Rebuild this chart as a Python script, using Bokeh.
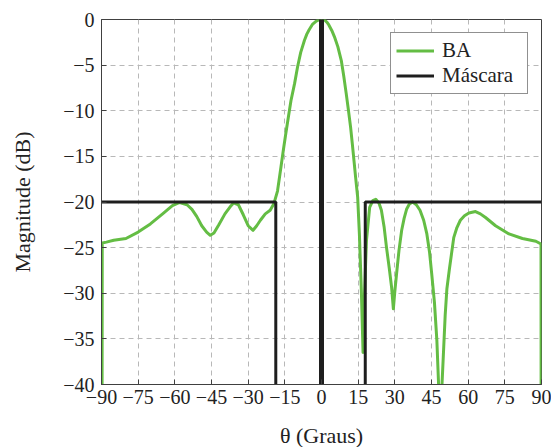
from bokeh.plotting import figure
from bokeh.models import Range1d, FixedTicker, Legend, LegendItem
from bokeh.embed import file_html
from bokeh.resources import INLINE

# BA beam pattern
theta_ba = [-90.0, -89.7, -88, -85, -80, -75, -70, -65, -61, -58, -55, -53, -51, -49, -47,
            -45.5, -44, -42, -39.5, -37, -36, -34, -32, -30, -28, -26.5, -25, -23, -21,
            -19.5, -18.0, -17.3, -16.6, -15.6, -14.6, -13.5, -12.5, -11.0, -9.8, -8.5,
            -7.0, -6.0, -5.0, -3.6, -2.5, -1.5, 0.0, 1.5, 2.2, 3.0, 4.2, 5.3, 6.7,
            8.1, 9.1, 10.1, 11.0, 11.9, 12.6, 13.3, 14.0, 14.8, 15.5, 16.3, 17.0, 17.6,
            18.4, 19.7, 21.0, 22.2,
            23.5, 24.5, 25.6, 26.6, 27.7, 28.7, 29.4, 30.0, 30.7, 31.7, 32.8, 33.8, 34.8,
            36.0, 37.3, 38.8, 40.3, 41.8, 43.1, 44.2, 45.1, 46.2, 47.2, 47.9, 48.6, 49.3,
            50.6, 51.3, 52.3, 54.1, 55.4, 56.8, 58.5, 60.3, 63.0, 65.0, 67.1, 71.2, 76.7,
            82.2, 87.7, 89.8, 90.0]
db_ba = [-100, -24.5, -24.4, -24.2, -24.0, -23.3, -22.4, -21.3, -20.4, -20.05, -20.3,
         -20.8, -21.6, -22.6, -23.3, -23.65, -23.4, -22.5, -21.3, -20.4, -20.1, -20.3,
         -21.4, -22.6, -23.1, -22.6, -22.0, -21.3, -20.9, -20.2, -18.8, -17.5, -16.2,
         -14.3, -12.5, -10.6, -8.9, -7.0, -5.2, -3.6, -2.3, -1.6, -1.1, -0.5, -0.25,
         -0.08, 0.0, -0.1, -0.3, -0.6, -1.2, -1.9, -3.0, -4.5, -6.2, -8.1, -9.9, -11.8,
         -13.6, -15.5, -17.4, -19.5, -23.5, -29.7, -36.5, -30.0, -24.2, -20.6, -19.85,
         -19.7, -20.1, -20.9,
         -22.7, -25.0, -27.2, -29.4, -31.7, -29.8, -27.9, -25.3, -23.1, -21.8, -20.8,
         -20.2, -20.0, -20.3, -20.9, -22.0, -23.5, -25.5, -27.9, -31.0, -35.2, -40.0,
         -60.0, -40.0, -32.4, -29.5, -27.4, -23.9, -22.8, -22.0, -21.5, -21.2, -21.05,
         -21.3, -21.7, -22.6, -23.5, -24.0, -24.3, -24.6, -100]

# Mask
mask_theta = [-90, -18.7, -18.7, -0.4, -0.4, 0.4, 0.4, 17.9, 17.9, 90]
mask_db = [-20, -20, -100, -100, 0, 0, -100, -100, -20, -20]

x_ticks = list(range(-90, 91, 15))
y_ticks = list(range(-40, 1, 5))

FONT = "Liberation Serif"
GREEN = "#64bd44"
BLACK = "#1e1e1e"

p = figure(frame_width=440, frame_height=365,
           min_border_left=101, min_border_right=10, min_border_top=19, min_border_bottom=55,
           x_range=Range1d(-90, 90), y_range=Range1d(-40, 0),
           output_backend="svg", toolbar_location=None,
           background_fill_color="white", border_fill_color="white")

r_ba = p.line(theta_ba, db_ba, line_color=GREEN, line_width=3, line_join="round")
r_mask = p.line(mask_theta, mask_db, line_color=BLACK, line_width=3)

p.outline_line_color = "#404040"
p.outline_line_width = 1

p.xaxis.ticker = FixedTicker(ticks=x_ticks)
p.yaxis.ticker = FixedTicker(ticks=y_ticks)
p.xaxis.major_label_overrides = {t: str(t).replace("-", "\u2212") for t in x_ticks}
p.yaxis.major_label_overrides = {t: str(t).replace("-", "\u2212") for t in y_ticks}

for ax in (p.xaxis, p.yaxis):
    ax.axis_line_color = "#404040"
    ax.major_tick_line_color = "#404040"
    ax.major_tick_in = 5
    ax.major_tick_out = 0
    ax.minor_tick_line_color = None
    ax.major_label_text_font = FONT
    ax.major_label_text_font_size = "20px"
    ax.major_label_text_color = "#222222"
    ax.axis_label_text_font = FONT
    ax.axis_label_text_font_size = "22px"
    ax.axis_label_text_font_style = "normal"
    ax.axis_label_text_color = "#222222"

p.xaxis.axis_label = "\u03b8 (Graus)"
p.yaxis.axis_label = "Magnitude (dB)"
p.xaxis.major_label_standoff = 5
p.yaxis.major_label_standoff = 7
p.xaxis.axis_label_standoff = 16
p.yaxis.axis_label_standoff = 25

p.xgrid.ticker = FixedTicker(ticks=x_ticks)
p.ygrid.ticker = FixedTicker(ticks=y_ticks)
for g in (p.xgrid, p.ygrid):
    g.grid_line_color = "#b8b8b8"
    g.grid_line_dash = "5 4"
    g.grid_line_width = 1

legend = Legend(items=[LegendItem(label="BA", renderers=[r_ba]),
                       LegendItem(label="M\u00e1scara", renderers=[r_mask])],
                location="top_right", margin=13, padding=5, spacing=0,
                glyph_width=38, glyph_height=25, label_height=25, label_width=80,
                label_standoff=8,
                label_text_font=FONT, label_text_font_size="21px",
                label_text_color="#222222",
                border_line_color="#222222", border_line_width=1,
                background_fill_color="white", background_fill_alpha=1.0)
p.add_layout(legend)

open("out.html", "w").write(file_html(p, INLINE))
